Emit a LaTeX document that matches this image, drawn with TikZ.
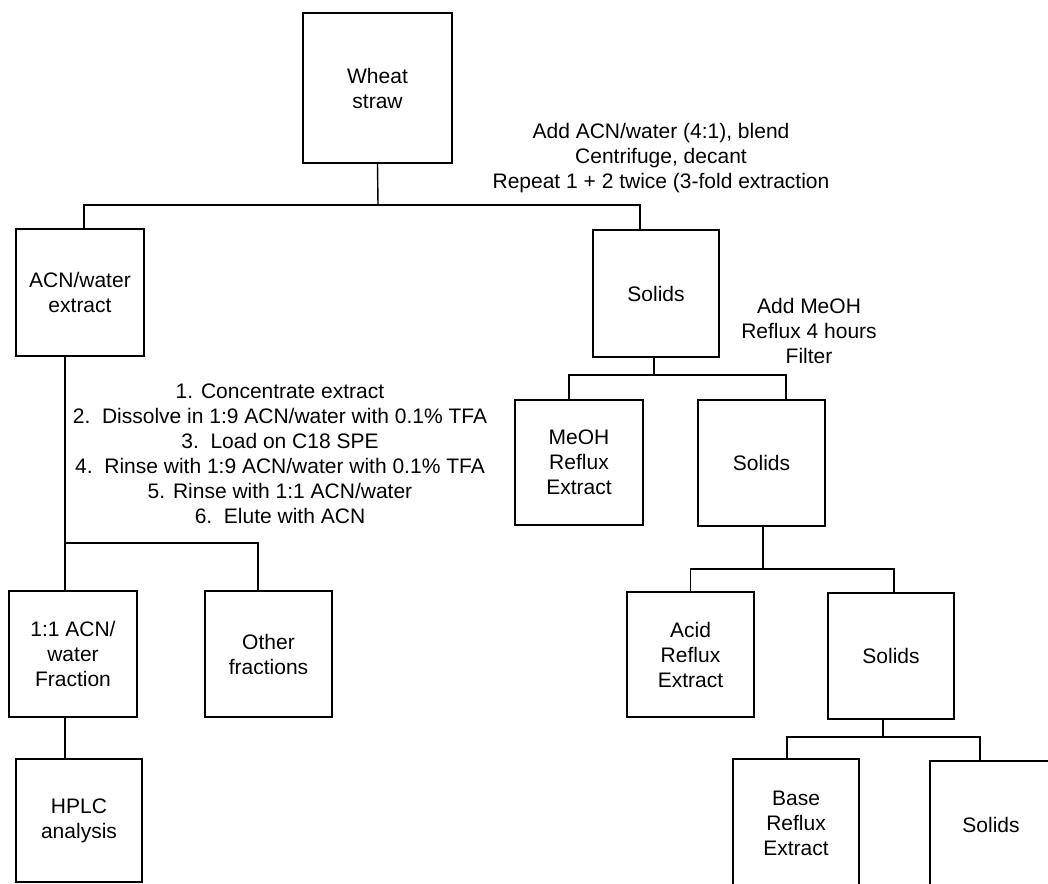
\documentclass[tikz,border=0pt]{standalone}
\usepackage{fontspec}
\setmainfont{Liberation Sans}
\begin{document}
\begin{tikzpicture}[x=1pt,y=-1pt,
  txt/.style={inner sep=0pt, align=center, font=\fontsize{21}{25}\selectfont},
  box/.style={txt, draw, line width=1.5pt},
  conn/.style={line width=1.4pt}]
\path[use as bounding box, fill=white] (0,0) rectangle (1048,883);

% boxes
\node[box, minimum width=149pt, minimum height=150pt] (wheat) at (377.5,88) {Wheat\\straw};
\node[box, minimum width=128pt, minimum height=127pt] (acn) at (80,292.5) {ACN/water\\extract};
\node[box, minimum width=126pt, minimum height=127pt] (sol1) at (656,293.5) {Solids};
\node[box, minimum width=128pt, minimum height=125pt] (meoh) at (579,462.5) {MeOH\\Reflux\\Extract};
\node[box, minimum width=127pt, minimum height=126pt] (sol2) at (761.5,463) {Solids};
\node[box, minimum width=128pt, minimum height=126pt] (frac) at (73,654) {1:1 ACN/\\water\\Fraction};
\node[box, minimum width=127pt, minimum height=126pt] (other) at (268.5,654) {Other\\fractions};
\node[box, minimum width=126pt, minimum height=123pt] (hplc) at (79,820.5) {HPLC\\analysis};
\node[box, minimum width=127pt, minimum height=125pt] (acid) at (690.5,654.5) {Acid\\Reflux\\Extract};
\node[box, minimum width=126pt, minimum height=126pt] (sol3) at (891,656) {Solids};
\node[txt, minimum width=126pt, minimum height=129pt] (base) at (796,823.5) {Base\\Reflux\\Extract};
\node[txt, minimum width=122pt, minimum height=127pt] (sol4) at (991,824.5) {Solids};
\draw[line width=1.5pt] (base.south west) -- (base.north west) -- (base.north east) -- (base.south east);
\draw[line width=1.5pt] (sol4.south west) -- (sol4.north west) -- (sol4.north east) -- (sol4.south east);

% step labels
\node[txt] (t1) at (661,158) {Add ACN/water (4:1), blend\\Centrifuge, decant\\Repeat 1 + 2 twice (3-fold extraction};
\node[txt] (t2) at (809,330.5) {Add MeOH\\Reflux 4 hours\\Filter};
\node[txt] (t3) at (280,453.5) {1. Concentrate extract\\2.\ \ Dissolve in 1:9 ACN/water with 0.1\% TFA\\3.\ \ Load on C18 SPE\\4.\ \ Rinse with 1:9 ACN/water with 0.1\% TFA\\5. Rinse with 1:1 ACN/water\\6.\ \ Elute with ACN};

% junctions
\coordinate (j1) at (378,205);
\coordinate (j2) at (65,543);
\coordinate (j3) at (654,375);
\coordinate (j4) at (763,569);
\coordinate (j5) at (883,737);

\draw[conn] (wheat.south) -- (j1);
\draw[conn] ([xshift=4pt]acn.north) |- (j1) -| ([xshift=-16pt]sol1.north);

\draw[conn] ([xshift=-15pt]acn.south) -- (j2);
\draw[conn] ([xshift=-8pt]frac.north) |- (j2) -| ([xshift=-10.5pt]other.north);
\draw[conn] ([xshift=-8pt]frac.south) -- ([xshift=-14pt]hplc.north);

\draw[conn] ([xshift=-2pt]sol1.south) -- (j3);
\draw[conn] ([xshift=-10pt]meoh.north) |- (j3) -| ([xshift=24.5pt]sol2.north);

\draw[conn] ([xshift=1.5pt]sol2.south) -- (j4);
\draw[conn] (acid.north) |- (j4) -| ([xshift=3pt]sol3.north);

\draw[conn] ([xshift=-8pt]sol3.south) -- (j5);
\draw[conn] ([xshift=-9pt]base.north) |- (j5) -| ([xshift=-11pt]sol4.north);
\end{tikzpicture}
\end{document}
